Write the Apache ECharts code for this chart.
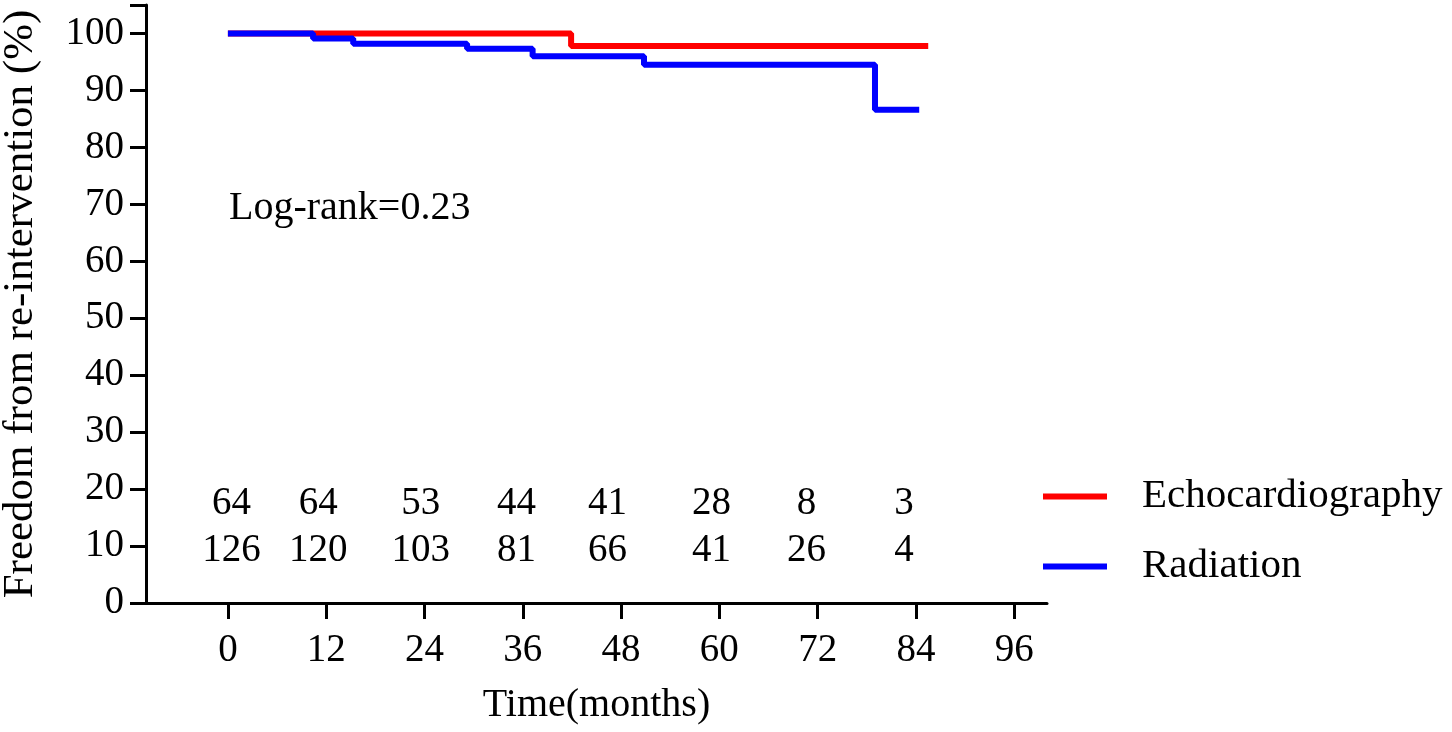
<!DOCTYPE html>
<html>
<head>
<meta charset="utf-8">
<script src="https://cdn.jsdelivr.net/npm/echarts@6/dist/echarts.min.js"></script>
<style>
html,body{margin:0;padding:0;background:#fff;}
#chart{width:1452px;height:732px;}
</style>
</head>
<body>
<div id="chart"></div>
<script>
// Kaplan-Meier step data (time in months, freedom %)
const echoCurve = [[0, 100], [41.9, 97.8], [85.5, 97.8]];
const radCurve = [[0, 100], [10.4, 99.1], [15.3, 98.2], [29.2, 97.3], [37.2, 96.0], [50.8, 94.5], [79.0, 86.6], [84.4, 86.6]];
// Numbers at risk
const riskTimes = [0.5, 11.1, 23.6, 35.3, 46.4, 59.1, 70.7, 82.6];
const echoRisk = [64, 64, 53, 44, 41, 28, 8, 3];
const radRisk = [126, 120, 103, 81, 66, 41, 26, 4];
const echoRiskRow = 17.3;
const radRiskRow = 9.1;
// Axis ticks
const xTicks = [0, 12, 24, 36, 48, 60, 72, 84, 96];
const seriesNames = ['Echocardiography', 'Radiation'];
const logRankText = 'Log-rank=0.23';

const FONT = "'Liberation Serif', 'Times New Roman', serif";
const chart = echarts.init(document.getElementById('chart'), null, {renderer: 'canvas'});

function riskSeries(values, row) {
  return {
    type: 'scatter',
    symbolSize: 1,
    silent: true,
    z: 5,
    itemStyle: {color: 'rgba(0,0,0,0)'},
    data: riskTimes.map((t, i) => ({value: [t, row, values[i]]})),
    label: {
      show: true,
      position: [0, 0],
      align: 'center',
      verticalAlign: 'middle',
      formatter: p => String(p.value[2]),
      color: '#000',
      opacity: 1,
      textBorderWidth: 0,
      fontFamily: FONT,
      fontSize: 39
    },
    emphasis: {disabled: true}
  };
}

chart.setOption({
  animation: false,
  backgroundColor: '#fff',
  textStyle: {fontFamily: FONT},
  grid: {left: 146, right: 405, top: 5, bottom: 129, containLabel: false, outerBoundsMode: 'none'},
  legend: {
    data: seriesNames,
    orient: 'vertical',
    left: 1043,
    top: 476,
    padding: 0,
    icon: 'rect',
    itemWidth: 64,
    itemHeight: 6,
    itemGap: 29,
    textStyle: {fontFamily: FONT, fontSize: 41, color: '#000', padding: [0, 0, 0, 30]}
  },
  xAxis: {
    type: 'value',
    min: -10,
    max: 100,
    name: 'Time(months)',
    nameLocation: 'middle',
    nameGap: 82,
    nameTextStyle: {fontFamily: FONT, fontSize: 40, color: '#000'},
    axisLine: {show: true, onZero: false, lineStyle: {color: '#000', width: 3}},
    axisTick: {show: true, length: 16, customValues: xTicks, lineStyle: {color: '#000', width: 3}},
    axisLabel: {customValues: xTicks, margin: 28, fontFamily: FONT, fontSize: 39, color: '#000'},
    splitLine: {show: false}
  },
  yAxis: {
    type: 'value',
    min: 0,
    max: 105,
    interval: 10,
    name: 'Freedom from re-intervention (%)',
    nameLocation: 'middle',
    nameRotate: 90,
    nameGap: 104,
    nameTextStyle: {fontFamily: FONT, fontSize: 43, color: '#000'},
    axisLine: {show: true, onZero: false, lineStyle: {color: '#000', width: 3}},
    axisTick: {show: true, length: 16, lineStyle: {color: '#000', width: 3}},
    axisLabel: {margin: 22, fontFamily: FONT, fontSize: 39, color: '#000',
      formatter: v => (v % 10 === 0 && v <= 100) ? String(v) : ''},
    splitLine: {show: false}
  },
  graphic: [{
    type: 'text',
    left: 229,
    top: 188,
    style: {text: logRankText, fontFamily: FONT, fontSize: 40, fill: '#000'}
  }],
  series: [
    {
      name: seriesNames[0],
      type: 'line',
      step: 'end',
      data: echoCurve,
      showSymbol: false,
      symbol: 'none',
      color: '#ff0000',
      lineStyle: {color: '#ff0000', width: 6},
      z: 2
    },
    {
      name: seriesNames[1],
      type: 'line',
      step: 'end',
      data: radCurve,
      showSymbol: false,
      symbol: 'none',
      color: '#0000ff',
      lineStyle: {color: '#0000ff', width: 6},
      z: 3
    },
    riskSeries(echoRisk, echoRiskRow),
    riskSeries(radRisk, radRiskRow)
  ]
});
</script>
</body>
</html>
